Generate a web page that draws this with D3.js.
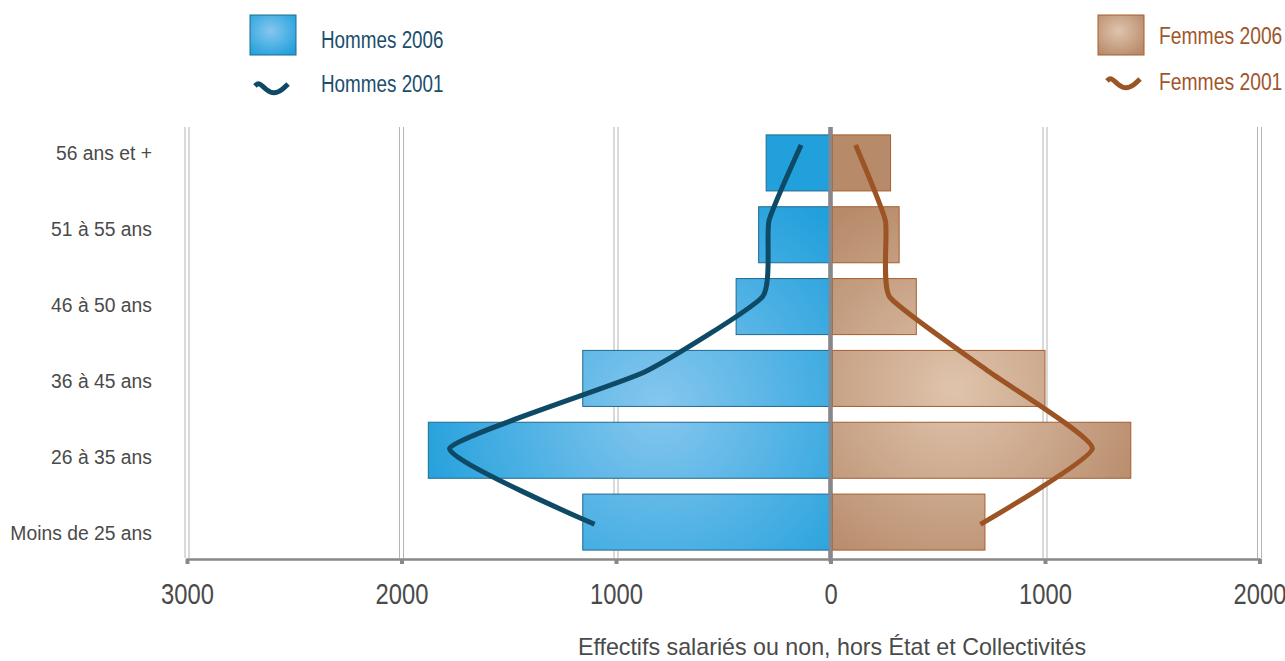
<!DOCTYPE html>
<html>
<head>
<meta charset="utf-8">
<script src="https://cdn.jsdelivr.net/npm/d3@7"></script>
<style>
  body { margin: 0; background: #fff; }
  text { font-family: "Liberation Sans", Arial, sans-serif; }
</style>
</head>
<body>
<div id="chart"></div>
<script>
// age groups, top to bottom
const ages = ['56 ans et +', '51 à 55 ans', '46 à 50 ans', '36 à 45 ans', '26 à 35 ans', 'Moins de 25 ans'];
// 2006 headcounts (bars)
const hommes2006 = [300, 335, 440, 1155, 1875, 1155];
const femmes2006 = [280, 320, 400, 1000, 1400, 720];
// 2001 headcounts (lines)
const hommes2001 = [137, 287, 317, 872, 1776, 1100];
const femmes2001 = [117, 256, 275, 745, 1221, 699];
// axis ticks (signed: men on the left)
const ticks = [-3000, -2000, -1000, 0, 1000, 2000];
const axisTitle = 'Effectifs salariés ou non, hors État et Collectivités';

const colors = {
    men: '#22a0dc',
    menLight: '#86c7ee',
    menStroke: '#1f6a8f',
    menLine: '#0e4a66',
    menText: '#1b4e6d',
    women: '#b78a6a',
    womenLight: '#dfc4ac',
    womenStroke: '#a65e2d',
    womenLine: '#9c5424',
    womenText: '#a0562b',
    grid: '#b4b4b8',
    axis: '#88888c',
    text: '#4a4a4a'
};

const width = 1285;
const height = 661;

const x = d3.scaleLinear().domain([-3000, 2000]).range([187, 1259.5]);
const y = d3.scaleBand().domain(ages).range([127, 558]).paddingInner(0.22).paddingOuter(0.11);
// the 2001 lines and category labels sit on their own, slightly wider spacing
const lineY = d3.scalePoint().domain(ages)
    .range([y(ages[0]) + y.bandwidth() * 0.18, y(ages[5]) + y.bandwidth() * 0.54]);

// horizontally condensed text (narrow Helvetica look)
const squeeze = (sel, px, sx) => sel.attr('x', px / sx).attr('transform', `scale(${sx},1)`);

const svg = d3.select('#chart').append('svg')
    .attr('width', width)
    .attr('height', height);

const defs = svg.append('defs');
const radial = (id, c0, c1, cx, cy, r, units) => {
    const g = defs.append('radialGradient').attr('id', id);
    if (units) {
        g.attr('gradientUnits', 'userSpaceOnUse').attr('cx', cx).attr('cy', cy).attr('r', r);
    } else {
        g.attr('cx', cx).attr('cy', cy).attr('r', r);
    }
    g.append('stop').attr('offset', '0%').attr('stop-color', c0);
    g.append('stop').attr('offset', '100%').attr('stop-color', c1);
};
radial('menGrad', colors.menLight, colors.men, x(-800), y(ages[3]) + y.bandwidth(), 250, true);
radial('womenGrad', colors.womenLight, colors.women, x(580), y(ages[3]) + y.bandwidth() * 0.7, 210, true);
radial('menKey', colors.menLight, colors.men, '45%', '40%', '70%', false);
radial('womenKey', colors.womenLight, colors.women, '45%', '40%', '70%', false);

const [plotTop, plotBottom] = y.range();

// gridlines (double thin lines)
const grid = svg.append('g');
ticks.forEach(t => {
    [-2, 2].forEach(o => {
        grid.append('line')
            .attr('x1', x(t) + o).attr('x2', x(t) + o)
            .attr('y1', plotTop).attr('y2', plotBottom)
            .attr('stroke', colors.grid)
            .attr('stroke-width', 1);
    });
});

// bars 2006
svg.append('g').selectAll('rect')
    .data(hommes2006)
    .join('rect')
    .attr('x', d => x(-d))
    .attr('y', (d, i) => y(ages[i]))
    .attr('width', d => x(0) - x(-d))
    .attr('height', y.bandwidth())
    .attr('fill', 'url(#menGrad)')
    .attr('stroke', colors.menStroke)
    .attr('stroke-width', 1);

svg.append('g').selectAll('rect')
    .data(femmes2006)
    .join('rect')
    .attr('x', x(0) + 2)
    .attr('y', (d, i) => y(ages[i]))
    .attr('width', d => x(d) - x(0) - 2)
    .attr('height', y.bandwidth())
    .attr('fill', 'url(#womenGrad)')
    .attr('stroke', colors.womenStroke)
    .attr('stroke-width', 1);

// center line
svg.append('line')
    .attr('x1', x(0)).attr('x2', x(0))
    .attr('y1', plotTop).attr('y2', plotBottom + 4)
    .attr('stroke', colors.axis)
    .attr('stroke-width', 4);

// lines 2001
const curve = d3.curveCardinal.tension(0.55);
svg.append('path')
    .datum(hommes2001)
    .attr('fill', 'none')
    .attr('stroke', colors.menLine)
    .attr('stroke-width', 5)
    .attr('d', d3.line().x(d => x(-d)).y((d, i) => lineY(ages[i])).curve(curve));

svg.append('path')
    .datum(femmes2001)
    .attr('fill', 'none')
    .attr('stroke', colors.womenLine)
    .attr('stroke-width', 5)
    .attr('d', d3.line().x(d => x(d)).y((d, i) => lineY(ages[i])).curve(curve));

// x axis
const xAxis = svg.append('g')
    .attr('transform', `translate(0, ${plotBottom + 1})`)
    .call(d3.axisBottom(x)
        .tickValues(ticks)
        .tickSize(5)
        .tickPadding(19)
        .tickFormat(d => String(Math.abs(d))));
xAxis.select('.domain').attr('stroke', colors.axis).attr('stroke-width', 2.5);
xAxis.selectAll('.tick line').attr('stroke', colors.axis).attr('stroke-width', 4);
xAxis.selectAll('.tick text')
    .attr('fill', colors.text)
    .attr('transform', 'scale(0.82,1)')
    .style('font-size', '29px');

// y labels
svg.append('g').selectAll('text')
    .data(ages)
    .join('text')
    .attr('y', d => lineY(d) + 8)
    .attr('dy', '0.35em')
    .attr('text-anchor', 'end')
    .attr('fill', colors.text)
    .style('font-size', '21px')
    .text(d => d)
    .call(squeeze, 152, 0.92);

// axis title
svg.append('text')
    .attr('y', 655)
    .attr('text-anchor', 'middle')
    .attr('fill', colors.text)
    .style('font-size', '23px')
    .text(axisTitle)
    .call(squeeze, 832, 1.01);

// legend
const wave = d3.line().curve(d3.curveBasis);
const legend = [
    { key: 'menKey', stroke: colors.menStroke, line: colors.menLine, textColor: colors.menText,
      box: [250, 15], waveX: 255, waveY: 88, labels: ['Hommes 2006', 'Hommes 2001'], tx: 321, ty: [40, 84], sx: 0.82 },
    { key: 'womenKey', stroke: colors.womenStroke, line: colors.womenLine, textColor: colors.womenText,
      box: [1098, 15], waveX: 1107, waveY: 83, labels: ['Femmes 2006', 'Femmes 2001'], tx: 1159, ty: [36, 82], sx: 0.84 }
];
legend.forEach(l => {
    const g = svg.append('g');
    g.append('rect')
        .attr('x', l.box[0]).attr('y', l.box[1])
        .attr('width', 46).attr('height', 40)
        .attr('fill', `url(#${l.key})`)
        .attr('stroke', l.stroke);
    g.append('path')
        .attr('d', wave([[0, -2], [4, -6], [11, 2], [19, 6], [27, 2], [33, -4]].map(p => [l.waveX + p[0], l.waveY + p[1]])))
        .attr('fill', 'none')
        .attr('stroke', l.line)
        .attr('stroke-width', 5);
    l.labels.forEach((t, i) => {
        g.append('text')
            .attr('y', l.ty[i])
            .attr('dy', '0.35em')
            .attr('fill', l.textColor)
            .style('font-size', '23px')
            .text(t)
            .call(squeeze, l.tx, l.sx);
    });
});
</script>
</body>
</html>
